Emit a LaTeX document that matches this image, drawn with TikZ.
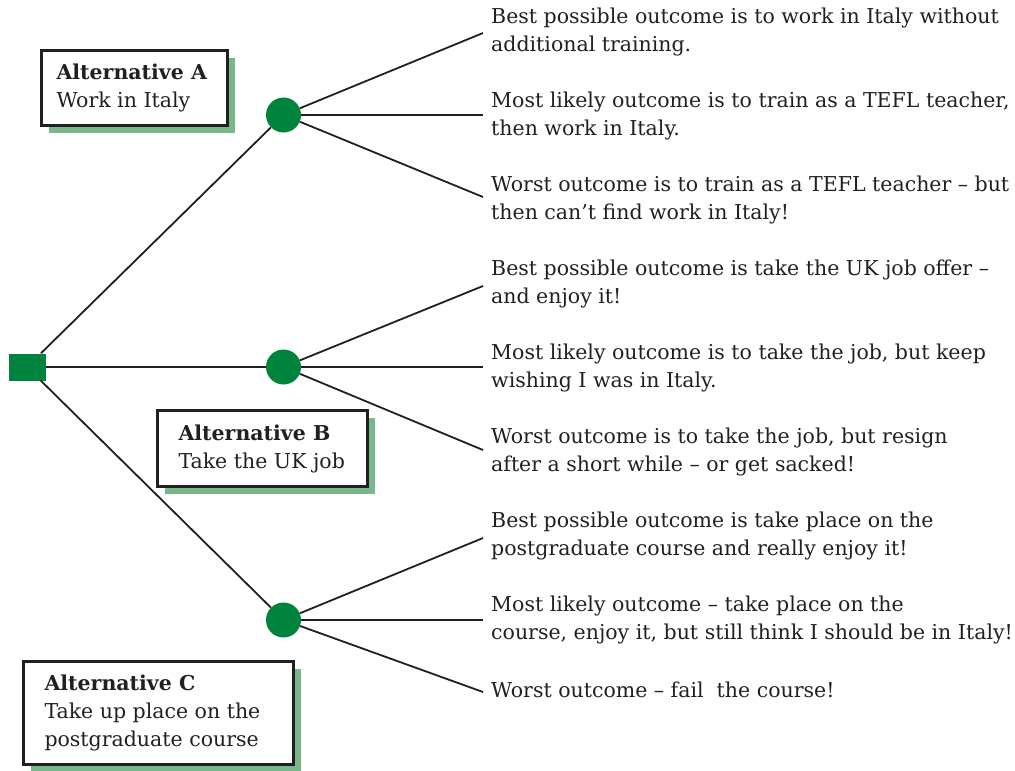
\documentclass[tikz,border=0pt]{standalone}
\usepackage{fontspec}
\setmainfont{DejaVu Serif}
\usetikzlibrary{shadows}
\definecolor{nodegreen}{HTML}{00843D}
\definecolor{shadegreen}{HTML}{78B78A}
\definecolor{ink}{HTML}{231F20}
\tikzset{
  decision/.style={rectangle, fill=nodegreen, minimum width=37pt, minimum height=27pt, inner sep=0pt},
  chance/.style={circle, fill=nodegreen, minimum size=35pt, inner sep=0pt},
  branch/.style={draw=ink, line width=1.8pt},
  outcome/.style={anchor=west, align=left, inner sep=0pt, text=ink,
    font=\fontsize{20.5pt}{28pt}\selectfont},
  altbox/.style={draw=ink, line width=2.6pt, fill=white, anchor=north west, inner sep=0pt,
    drop shadow={fill=shadegreen, opacity=1, shadow xshift=7.5pt, shadow yshift=-7.5pt}},
  alttext/.style={anchor=west, align=left, inner sep=0pt, text=ink,
    font=\fontsize{20.5pt}{28pt}\selectfont},
}
\begin{document}
\begin{tikzpicture}[x=1pt, y=-1pt]
\useasboundingbox (0,0) rectangle (1015,771);

% decision point and the three chance points
\node[decision] (root) at (27,367) {};
\node[chance] (cA) at (283.5,115) {};
\node[chance] (cB) at (283.5,367) {};
\node[chance] (cC) at (283.5,620) {};

\draw[branch] (root) -- (cA);
\draw[branch] (root) -- (cB);
\draw[branch] (root) -- (cC);

% end points of the outcome branches
\coordinate (a1) at (483,33);
\coordinate (a2) at (483,115);
\coordinate (a3) at (483,197);
\coordinate (b1) at (483,286);
\coordinate (b2) at (483,367);
\coordinate (b3) at (483,450);
\coordinate (c1) at (483,538);
\coordinate (c2) at (483,620);
\coordinate (c3) at (483,692);

\foreach \p in {a1,a2,a3} \draw[branch] (cA) -- (\p);
\foreach \p in {b1,b2,b3} \draw[branch] (cB) -- (\p);
\foreach \p in {c1,c2,c3} \draw[branch] (cC) -- (\p);

% outcome texts
\node[outcome] (ta1) at (491,32) {Best possible outcome is to work in Italy without\\additional training.};
\node[outcome] (ta2) at (491,116) {Most likely outcome is to train as a TEFL teacher,\\then work in Italy.};
\node[outcome] (ta3) at (491,200) {Worst outcome is to train as a TEFL teacher -- but\\then can’t find work in Italy!};
\node[outcome] (tb1) at (491,284) {Best possible outcome is take the UK job offer --\\and enjoy it!};
\node[outcome] (tb2) at (491,368) {Most likely outcome is to take the job, but keep\\wishing I was in Italy.};
\node[outcome] (tb3) at (491,452) {Worst outcome is to take the job, but resign\\after a short while -- or get sacked!};
\node[outcome] (tc1) at (491,536) {Best possible outcome is take place on the\\postgraduate course and really enjoy it!};
\node[outcome] (tc2) at (491,620) {Most likely outcome -- take place on the\\course, enjoy it, but still think I should be in Italy!};
\node[outcome] (tc3) at (491,690) {Worst outcome -- fail\ \ the course!};

% the three alternatives: framed boxes with a green shadow
\node[altbox, minimum width=186pt, minimum height=75pt] (altA) at (40.3,49.3) {};
\node[alttext] (labA) at ([xshift=16pt]altA.west) {\textbf{Alternative A}\\Work in Italy};
\node[altbox, minimum width=210pt, minimum height=76pt] (altB) at (156.3,409.3) {};
\node[alttext] (labB) at ([xshift=22pt]altB.west) {\textbf{Alternative B}\\Take the UK job};
\node[altbox, minimum width=270pt, minimum height=103pt] (altC) at (22.3,660.3) {};
\node[alttext] (labC) at ([xshift=22pt]altC.west) {\textbf{Alternative C}\\Take up place on the\\postgraduate course};
\end{tikzpicture}
\end{document}
